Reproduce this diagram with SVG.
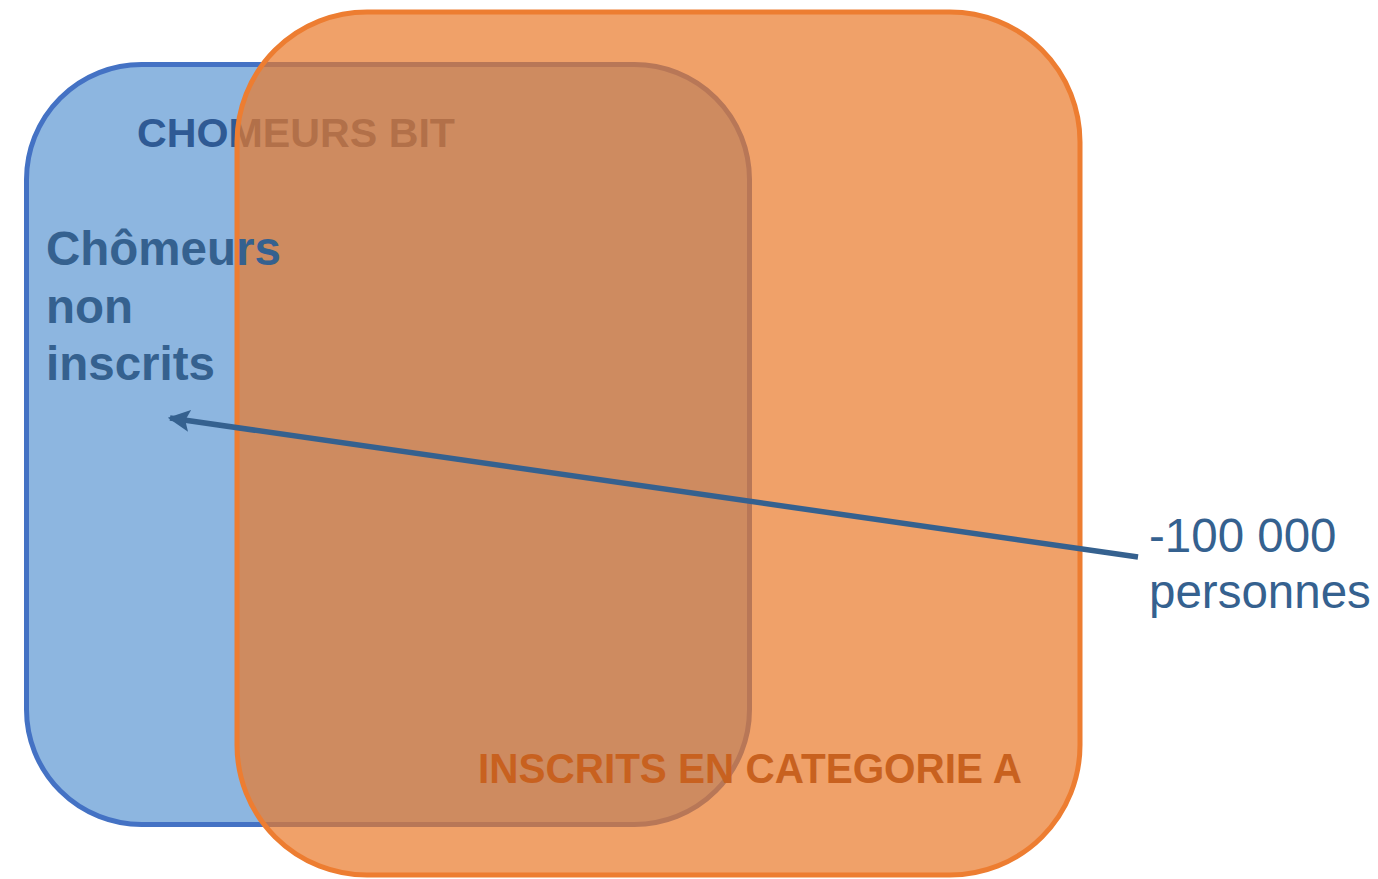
<svg xmlns="http://www.w3.org/2000/svg" width="1378" height="879" viewBox="0 0 1378 879">
<style>
.bit{font-family:"Liberation Sans",Arial,sans-serif;font-weight:bold;}
.lbl{font-family:"Liberation Sans",Arial,sans-serif;fill:#35618F;}
</style>
<defs>
<marker id="ah" viewBox="0 0 10 10" refX="9" refY="5" markerWidth="4" markerHeight="4" orient="auto" markerUnits="strokeWidth">
<path d="M0,0 L10,5 L0,10 L2,5 Z" fill="#35618F"/>
</marker>
</defs>
<rect width="1378" height="879" fill="#ffffff"/>
<g id="chomeurs-bit">
<rect x="26.5" y="64.5" width="723" height="760" rx="115" ry="115" fill="#8DB6E0" stroke="#4472C4" stroke-width="5"/>
<text class="bit" x="137" y="147" font-size="40" fill="#2F5A94" textLength="318" lengthAdjust="spacingAndGlyphs">CHOMEURS BIT</text>
</g>
<g id="inscrits-cat-a">
<rect x="237" y="12" width="843" height="863" rx="130" ry="130" fill="#E97929" fill-opacity="0.7" stroke="#ED7D31" stroke-width="5"/>
<text class="bit" x="478" y="783" font-size="42" fill="#C8611F" textLength="544" lengthAdjust="spacingAndGlyphs">INSCRITS EN CATEGORIE A</text>
</g>
<g id="non-inscrits">
<text class="lbl" font-weight="bold" font-size="47.5"><tspan x="46" y="265">Chômeurs</tspan><tspan x="46" y="323">non</tspan><tspan x="46" y="380">inscrits</tspan></text>
</g>
<g id="connectors">
<line x1="1138" y1="557" x2="170" y2="418" stroke="#35618F" stroke-width="5.5" marker-end="url(#ah)"/>
</g>
<g id="delta">
<text class="lbl" font-size="47.5"><tspan x="1149" y="552">-100 000</tspan><tspan x="1149" y="608">personnes</tspan></text>
</g>
</svg>
